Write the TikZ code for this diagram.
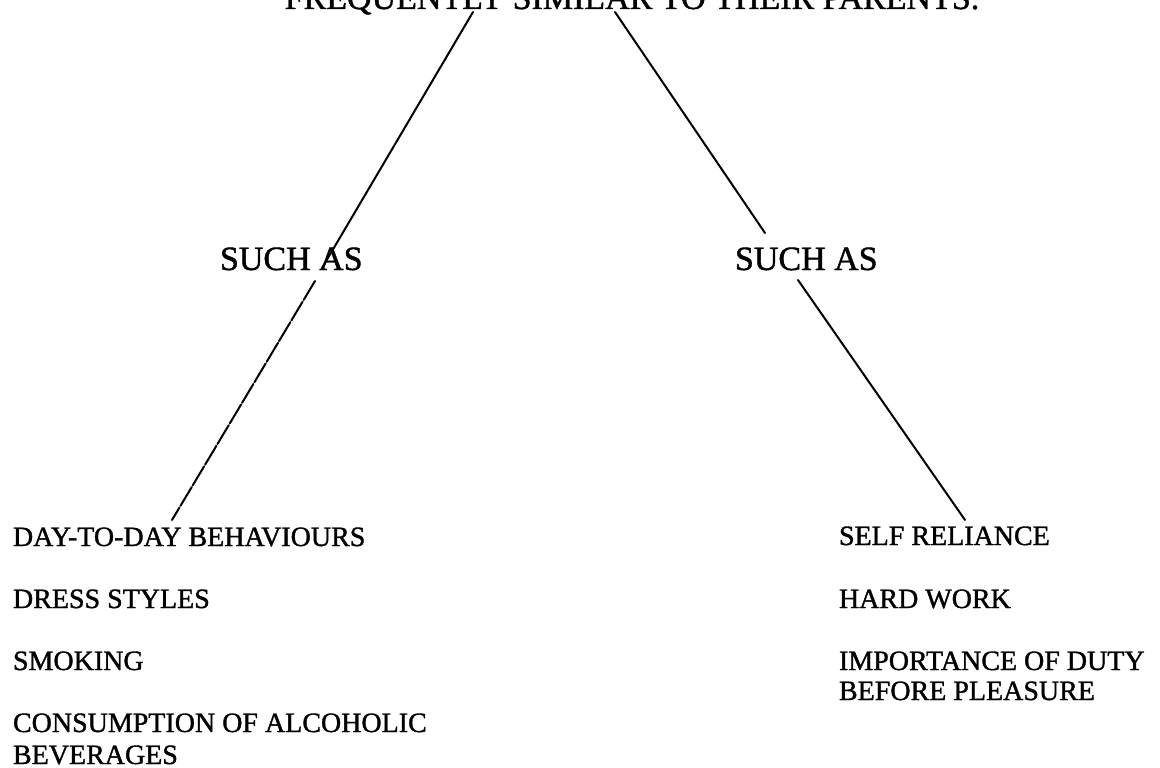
\documentclass[tikz,border=0pt]{standalone}
\usepackage{fontspec}
\setmainfont{Liberation Serif}[FakeBold=1.2]
\begin{document}
\begin{tikzpicture}[x=1pt,y=-1pt,
  every node/.style={inner sep=0pt, outer sep=0pt, anchor=base west},
  head/.style={font=\fontsize{34}{40}\selectfont},
  item/.style={font=\fontsize{28}{32}\selectfont},
  link/.style={line width=2pt, line cap=round}]
\useasboundingbox (0,0) rectangle (1160,768);
\clip (0,0) rectangle (1160,768);
\fill[white] (0,0) rectangle (1160,768);
% headings
\node[head, anchor=base] (top) at (632,9) {FREQUENTLY SIMILAR TO THEIR PARENTS.};
\node[head] (suchL) at (220,270) {SUCH AS};
\node[head] (suchR) at (735,270) {SUCH AS};
% left list
\node[item] (day) at (13,546) {DAY-TO-DAY BEHAVIOURS};
\node[item] (dress) at (13,608) {DRESS STYLES};
\node[item] (smoke) at (13,670) {SMOKING};
\node[item] (cons) at (13,732) {CONSUMPTION OF ALCOHOLIC};
\node[item] (bev) at (13,764) {BEVERAGES};
% right list
\node[item] (self) at (839,545) {SELF RELIANCE};
\node[item] (hard) at (839,608) {HARD WORK};
\node[item] (imp) at (839,670) {IMPORTANCE OF DUTY};
\node[item] (bef) at (839,700) {BEFORE PLEASURE};
% connector end points
\coordinate (tl) at (473,12);
\coordinate (sl1) at (322,268);
\coordinate (sl2) at (315,281);
\coordinate (dl) at (172,520);
\coordinate (tr) at (615,12);
\coordinate (sr1) at (765,233);
\coordinate (sr2) at (798,280);
\coordinate (dr) at (965,520);
% connectors
\draw[link] (tl) -- (sl1);
\draw[link, dash pattern=on 22pt off 2pt] (sl2) -- (dl);
\draw[link] (tr) -- (sr1);
\draw[link] (sr2) -- (dr);
\end{tikzpicture}
\end{document}
